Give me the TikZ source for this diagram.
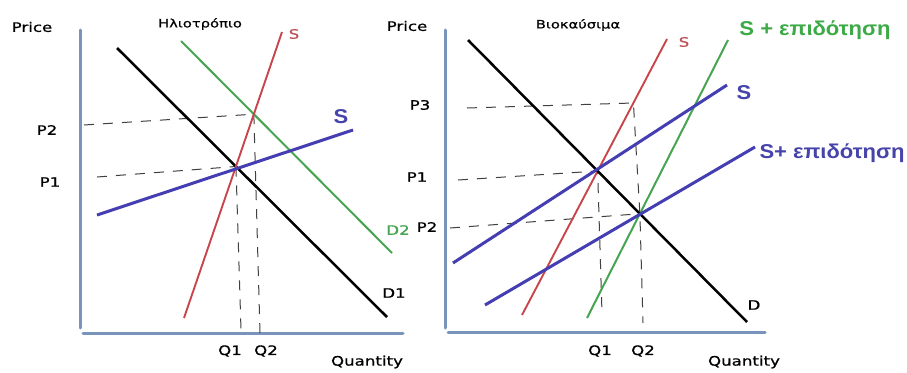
\documentclass[tikz,border=0pt]{standalone}
\usepackage{fontspec}
\setmainfont{DejaVu Sans}
\newfontfamily\comic[FakeStretch=1.28,FakeBold=0.8]{DejaVu Sans}
\newfontfamily\arialb[FakeStretch=1.1]{Liberation Sans}
\definecolor{axisc}{RGB}{120,148,186}
\definecolor{redc}{RGB}{200,70,75}
\definecolor{greenc}{RGB}{70,165,80}
\definecolor{bluec}{RGB}{68,62,178}
\definecolor{gtext}{RGB}{60,170,70}
\definecolor{btext}{RGB}{70,68,170}
\definecolor{rtext}{RGB}{190,80,85}
\begin{document}
\begin{tikzpicture}[x=1pt,y=-1pt,
  axisline/.style={draw=axisc,line width=3pt,line cap=round},
  dline/.style={draw=black,line width=2.5pt},
  rline/.style={draw=redc,line width=1.9pt},
  gline/.style={draw=greenc,line width=2pt},
  bline/.style={draw=bluec,line width=3pt},
  guide/.style={draw=black!75,line width=1pt,dash pattern=on 10pt off 9pt},
  lab/.style={font=\comic\fontsize{13}{15}\selectfont,inner sep=0pt},
  title/.style={font=\comic\fontsize{11.5}{13}\selectfont,inner sep=0pt},
  big/.style={font=\arialb\bfseries\fontsize{20}{23}\selectfont,inner sep=0pt}]
\useasboundingbox[fill=white] (0,0) rectangle (907,372);

% ---------------- left panel ----------------
\coordinate (LyT) at (80,30);  \coordinate (LyB) at (80,328);
\coordinate (LxL) at (83,333); \coordinate (LxR) at (403,333);
\draw[axisline] (LyT) -- (LyB);
\draw[axisline] (LxL) -- (LxR);

\coordinate (LdA) at (117,48);  \coordinate (LdB) at (387,317);
\coordinate (LrA) at (184,318); \coordinate (LrB) at (282,32);
\coordinate (LgA) at (181,41);  \coordinate (LgB) at (392,253);
\coordinate (LbA) at (97,215);  \coordinate (LbB) at (353,130);
\coordinate (E1) at (intersection of LdA--LdB and LrA--LrB);
\coordinate (E2) at (intersection of LgA--LgB and LrA--LrB);

\coordinate (LP2s) at (84,125); \coordinate (LP1s) at (97,177);
\coordinate (LQ1e) at (241,330); \coordinate (LQ2e) at (260,333);
\draw[guide] (LP2s) -- (E2);
\draw[guide] (LP1s) -- (E1);
\draw[guide] (E1) -- (LQ1e);
\draw[guide] (E2) -- (LQ2e);

\draw[gline] (LgA) -- (LgB);
\draw[dline] (LdA) -- (LdB);
\draw[rline] (LrA) -- (LrB);
\draw[bline] (LbA) -- (LbB);

\node[lab] (lprice) at (32,27) {Price};
\node[title] (ltitle) at (200,24) {Ηλιοτρόπιο};
\node[lab,text=rtext] (lsr) at (294,34) {S};
\node[big,text=btext] (lsb) at (341,117) {S};
\node[lab,text=greenc] (ld2) at (398,230) {D2};
\node[lab] (ld1) at (394,293) {D1};
\node[lab] (lp2) at (47,130) {P2};
\node[lab] (lp1) at (50,182) {P1};
\node[lab] (lq1) at (230,351) {Q1};
\node[lab] (lq2) at (266,351) {Q2};
\node[lab] (lqty) at (367,362) {Quantity};

% ---------------- right panel ----------------
\coordinate (RyT) at (445,30);  \coordinate (RyB) at (445,328);
\coordinate (RxL) at (448,332); \coordinate (RxR) at (765,332);
\draw[axisline] (RyT) -- (RyB);
\draw[axisline] (RxL) -- (RxR);

\coordinate (RdA) at (468,40);  \coordinate (RdB) at (747,322);
\coordinate (RrA) at (522,315); \coordinate (RrB) at (667,39);
\coordinate (RgA) at (587,318); \coordinate (RgB) at (728,40);
\coordinate (RbA) at (453,263); \coordinate (RbB) at (727,85);
\coordinate (RcA) at (485,305); \coordinate (RcB) at (755,147);
\coordinate (F1) at (intersection of RdA--RdB and RrA--RrB);
\coordinate (F2) at (intersection of RdA--RdB and RgA--RgB);
\coordinate (RP3s) at (467,108);
\coordinate (RP3e) at (intersection of RrA--RrB and 460,103--700,103);
\coordinate (RP1s) at (458,180);
\coordinate (RP2s) at (450,228);
\coordinate (RQ1e) at (602,313);
\coordinate (RQ2e) at (643,323);
\draw[guide] (RP3s) -- (RP3e) -- (F2) -- (RQ2e);
\draw[guide] (RP1s) -- (F1) -- (RQ1e);
\draw[guide] (RP2s) -- (F2);

\draw[rline] (RrA) -- (RrB);
\draw[gline] (RgA) -- (RgB);
\draw[dline] (RdA) -- (RdB);
\draw[bline] (RbA) -- (RbB);
\draw[bline] (RcA) -- (RcB);

\node[lab] (rprice) at (407,26) {Price};
\node[title] (rtitle) at (578,25) {Βιοκαύσιμα};
\node[lab,text=rtext] (rsr) at (684,42) {S};
\node[big,text=gtext] (rsg) at (815,30) {S + επιδότηση};
\node[big,text=btext] (rsb) at (744,93) {S};
\node[big,text=btext] (rsc) at (832,153) {S+ επιδότηση};
\node[lab] (rp3) at (420,105) {P3};
\node[lab] (rp1) at (417,177) {P1};
\node[lab] (rp2) at (427,227) {P2};
\node[lab] (rd) at (754,305) {D};
\node[lab] (rq1) at (600,351) {Q1};
\node[lab] (rq2) at (643,351) {Q2};
\node[lab] (rqty) at (744,362) {Quantity};
\end{tikzpicture}
\end{document}
